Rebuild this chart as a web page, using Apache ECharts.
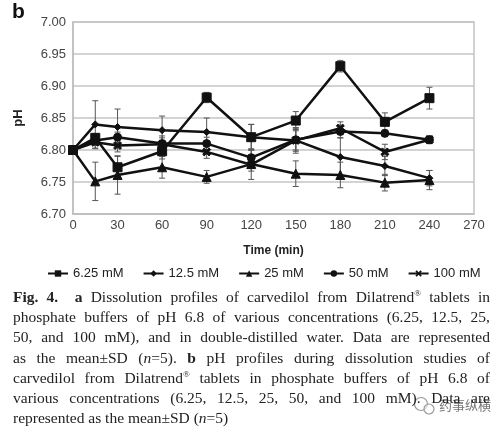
<!DOCTYPE html>
<html>
<head>
<meta charset="utf-8">
<script src="https://cdn.jsdelivr.net/npm/echarts@6/dist/echarts.min.js"></script>
<style>
	body { margin: 0; background: #fff; }
	#chart4_b { position: absolute; left: 0; top: 0; width: 503px; height: 430px; }
	#caption { position: absolute; left: 13px; top: 287px; width: 477px; font-family: "Liberation Serif", "DejaVu Serif", serif; font-size: 15.5px; line-height: 20.2px; color: #222; }
	#caption div { text-align: justify; text-align-last: justify; white-space: nowrap; }
	#caption div.last { text-align-last: left; }
	#caption sup { font-size: 9px; line-height: 0; }
</style>
</head>
<body>
<div id="chart4_b"></div>
<div id="caption">
	<div><b>Fig. 4.</b>&nbsp; <b>a</b> Dissolution profiles of carvedilol from Dilatrend<sup>®</sup> tablets in</div>
	<div>phosphate buffers of pH 6.8 of various concentrations (6.25, 12.5, 25,</div>
	<div>50, and 100 mM), and in double-distilled water. Data are represented</div>
	<div>as the mean±SD (<i>n</i>=5). <b>b</b> pH profiles during dissolution studies of</div>
	<div>carvedilol from Dilatrend<sup>®</sup> tablets in phosphate buffers of pH 6.8 of</div>
	<div>various concentrations (6.25, 12.5, 25, 50, and 100 mM). Data are</div>
	<div class="last">represented as the mean±SD (<i>n</i>=5)</div>
</div>
<script>
var myChart4_b = echarts.init(document.getElementById('chart4_b'));

// 时间点 (min)
var times = [0, 15, 30, 60, 90, 120, 150, 180, 210, 240];
var seriesNames = ['6.25 mM', '12.5 mM', '25 mM', '50 mM', '100 mM'];

// pH 均值
var ph625 = [6.800, 6.819, 6.773, 6.798, 6.882, 6.820, 6.846, 6.931, 6.844, 6.881];
var ph125 = [6.800, 6.840, 6.836, 6.831, 6.828, 6.820, 6.815, 6.789, 6.775, 6.756];
var ph25 = [6.800, 6.751, 6.761, 6.773, 6.758, 6.778, 6.763, 6.761, 6.749, 6.753];
var ph50 = [6.800, 6.815, 6.820, 6.810, 6.810, 6.788, 6.816, 6.829, 6.826, 6.816];
var ph100 = [6.800, 6.812, 6.807, 6.809, 6.797, 6.777, 6.815, 6.834, 6.797, 6.816];

// 标准差 SD
var sd625 = [0, 0.006, 0.017, 0.012, 0.008, 0.020, 0.014, 0.009, 0.014, 0.017];
var sd125 = [0, 0.037, 0.028, 0.022, 0.022, 0.020, 0.020, 0.030, 0.015, 0.012];
var sd25 = [0, 0.030, 0.030, 0.017, 0.010, 0.024, 0.020, 0.020, 0.013, 0.015];
var sd50 = [0, 0.008, 0.008, 0.012, 0.010, 0.012, 0.018, 0.010, 0.005, 0.006];
var sd100 = [0, 0.010, 0.010, 0.010, 0.010, 0.010, 0.015, 0.010, 0.012, 0.006];

var xTicks = [0, 30, 60, 90, 120, 150, 180, 210, 240, 270];

var allMeans = [ph625, ph125, ph25, ph50, ph100];
var allSd = [sd625, sd125, sd25, sd50, sd100];
var symbols = ['rect', 'diamond', 'triangle',
	'circle', 'path://M2,0L5,3L8,0L10,2L7,5L10,8L8,10L5,7L2,10L0,8L3,5L0,2Z'];
var symbolSizes = [9, 7, 9, 8, 8];

function pairs(arr) {
	return times.map(function(t, i) {
		return [t, arr[i]];
	});
}

// 误差棒
function errorData(mean, sd) {
	var out = [];
	for(var i = 0; i < times.length; i++) {
		if(sd[i] > 0) {
			out.push([times[i], mean[i] - sd[i], mean[i] + sd[i]]);
		}
	}
	return out;
}

function renderError(params, api) {
	var lo = api.coord([api.value(0), api.value(1)]);
	var hi = api.coord([api.value(0), api.value(2)]);
	var cap = 3;
	var st = { stroke: '#555', lineWidth: 1 };
	return {
		type: 'group',
		children: [
			{ type: 'line', shape: { x1: lo[0], y1: lo[1], x2: hi[0], y2: hi[1] }, style: st },
			{ type: 'line', shape: { x1: lo[0] - cap, y1: lo[1], x2: lo[0] + cap, y2: lo[1] }, style: st },
			{ type: 'line', shape: { x1: hi[0] - cap, y1: hi[1], x2: hi[0] + cap, y2: hi[1] }, style: st }
		]
	};
}

var series = [];
for(var k = 0; k < seriesNames.length; k++) {
	series.push({
		type: 'custom',
		name: seriesNames[k] + ' SD',
		renderItem: renderError,
		data: errorData(allMeans[k], allSd[k]),
		z: 1,
		silent: true
	});
}
for(var k = 0; k < seriesNames.length; k++) {
	series.push({
		type: 'line',
		name: seriesNames[k],
		data: pairs(allMeans[k]),
		symbol: symbols[k],
		symbolSize: symbolSizes[k],
		showAllSymbol: true,
		lineStyle: { color: '#111', width: 2.5 },
		itemStyle: { color: '#111', borderColor: '#111' },
		z: 3
	});
}

var option4_b = {
	backgroundColor: '#fff',
	animation: false,
	textStyle: { fontFamily: 'Liberation Sans, Arial, sans-serif' },
	grid: {
		left: 73,
		right: 29,
		top: 22,
		bottom: 216,
		show: true,
		borderColor: '#c4c4c4',
		borderWidth: 1.5
	},
	legend: {
		data: seriesNames,
		left: 42,
		top: 262,
		itemWidth: 20,
		itemHeight: 8,
		itemGap: 19,
		textStyle: { fontSize: 13, color: '#222' }
	},
	xAxis: {
		type: 'value',
		min: 0,
		max: 270,
		interval: 30,
		name: 'Time (min)',
		nameLocation: 'middle',
		nameGap: 31,
		nameTextStyle: { fontSize: 12, fontWeight: 'bold', color: '#222' },
		axisLine: { lineStyle: { color: '#bdbdbd', width: 1.5 } },
		axisTick: { show: false },
		splitLine: { show: false },
		axisLabel: {
			fontSize: 13,
			color: '#444',
			margin: 5,
			formatter: function(v) {
				return xTicks.indexOf(v) >= 0 ? String(v) : '';
			}
		}
	},
	yAxis: {
		type: 'value',
		min: 6.70,
		max: 7.00,
		interval: 0.05,
		name: 'pH',
		nameLocation: 'middle',
		nameGap: 48,
		nameRotate: 90,
		nameTextStyle: { fontSize: 13, fontWeight: 'bold', color: '#222' },
		axisLine: { show: true, lineStyle: { color: '#bdbdbd', width: 1.5 } },
		axisTick: { show: false },
		splitLine: { lineStyle: { color: '#c4c4c4', width: 1.5 } },
		axisLabel: {
			fontSize: 13,
			color: '#444',
			margin: 7,
			formatter: function(v) {
				return v.toFixed(2);
			}
		}
	},
	graphic: [{
		type: 'text',
		left: 12,
		top: 2,
		style: { text: 'b', font: 'bold 21px Liberation Sans, Arial, sans-serif', fill: '#111' }
	}, {
		type: 'circle',
		shape: { cx: 421, cy: 404, r: 6.5 },
		style: { fill: 'none', stroke: '#999', lineWidth: 1.2 },
		z: 10
	}, {
		type: 'circle',
		shape: { cx: 429, cy: 409, r: 5 },
		style: { fill: 'rgba(255,255,255,0.6)', stroke: '#999', lineWidth: 1.2 },
		z: 10
	}, {
		type: 'text',
		left: 439,
		top: 399,
		z: 10,
		style: { text: '药事纵横', font: '13px "Noto Sans CJK SC", sans-serif', fill: '#777' }
	}],
	series: series
};

myChart4_b.setOption(option4_b);
</script>
</body>
</html>
